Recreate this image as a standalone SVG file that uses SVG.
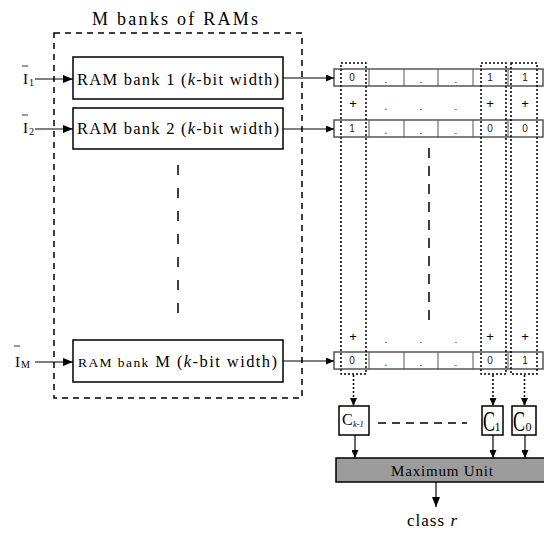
<svg xmlns="http://www.w3.org/2000/svg" width="544" height="533" viewBox="0 0 544 533">
<defs>
<marker id="ah" markerWidth="10" markerHeight="8" refX="10" refY="4" orient="auto" markerUnits="userSpaceOnUse">
<path d="M0,0 L10,4 L0,8 Z" fill="#000"/>
</marker>
<marker id="ahs" markerWidth="8" markerHeight="7" refX="8" refY="3.5" orient="auto" markerUnits="userSpaceOnUse">
<path d="M0,0 L8,3.5 L0,7 Z" fill="#000"/>
</marker>
<style>
.serif{font-family:"Liberation Serif","Times New Roman",serif;fill:#000}
.sans{font-family:"Liberation Sans",Arial,sans-serif;fill:#222;font-size:10px;text-anchor:middle}
.plus{font-family:"Liberation Sans",Arial,sans-serif;fill:#000;font-size:13px;text-anchor:middle}
.box{fill:#fff;stroke:#000;stroke-width:1.5}
.reg{fill:#fff;stroke:#555;stroke-width:1.5}
.div{stroke:#555;stroke-width:1}
.dash{fill:none;stroke:#000;stroke-width:1.5;stroke-dasharray:6 5}
.dot{fill:none;stroke:#000;stroke-width:1.5;stroke-dasharray:2 2}
.line{fill:none;stroke:#000;stroke-width:1.2}
</style>
</defs>
<rect width="544" height="533" fill="#fff"/>

<!-- title & enclosing dashed box -->
<g id="ram-group">
<text class="serif" x="92" y="25" font-size="18" textLength="166" lengthAdjust="spacing">M banks of RAMs</text>
<rect class="dash" x="54" y="33" width="248" height="365"/>
<line x1="178" y1="165" x2="178" y2="320" stroke="#000" stroke-width="1.5" stroke-dasharray="10 13"/>
</g>

<!-- inputs -->
<g id="input-1">
<text class="serif" x="23" y="84" font-size="15">I</text>
<text class="serif" x="29" y="86" font-size="10">1</text>
<line x1="22" y1="66" x2="28" y2="66" stroke="#000" stroke-width="0.8"/>
</g>
<g id="input-2">
<text class="serif" x="23" y="133" font-size="15">I</text>
<text class="serif" x="29" y="135" font-size="10">2</text>
<line x1="22" y1="115" x2="28" y2="115" stroke="#000" stroke-width="0.8"/>
</g>
<g id="input-M">
<text class="serif" x="15" y="367" font-size="15">I</text>
<text class="serif" x="21" y="368" font-size="10">M</text>
<line x1="14" y1="346" x2="20" y2="346" stroke="#000" stroke-width="0.8"/>
</g>

<!-- RAM banks -->
<g id="ram-bank-1">
<rect class="box" x="73" y="57" width="210" height="42"/>
<text class="serif" x="77" y="85" font-size="16.5" textLength="202" lengthAdjust="spacing">RAM bank 1 (<tspan font-style="italic">k</tspan>-bit width)</text>
</g>
<g id="ram-bank-2">
<rect class="box" x="73" y="108" width="210" height="41"/>
<text class="serif" x="77" y="134" font-size="16.5" textLength="202" lengthAdjust="spacing">RAM bank 2 (<tspan font-style="italic">k</tspan>-bit width)</text>
</g>
<g id="ram-bank-M">
<rect class="box" x="73" y="340" width="210" height="42"/>
<text class="serif" x="78" y="367" font-size="16.5" textLength="199" lengthAdjust="spacing"><tspan font-size="13.5">RAM bank</tspan> M (<tspan font-style="italic">k</tspan>-bit width)</text>
</g>

<!-- registers -->
<g id="register-1">
<rect class="reg" x="334" y="69" width="209" height="17"/>
<line class="div" x1="369" y1="69" x2="369" y2="86"/><line class="div" x1="404" y1="69" x2="404" y2="86"/><line class="div" x1="438" y1="69" x2="438" y2="86"/><line class="div" x1="473" y1="69" x2="473" y2="86"/><line class="div" x1="508" y1="69" x2="508" y2="86"/>
<text class="sans" x="352" y="81">0</text><text class="sans" x="386" y="83">.</text><text class="sans" x="421" y="83">.</text><text class="sans" x="456" y="83">.</text><text class="sans" x="490" y="81">1</text><text class="sans" x="525" y="81">1</text>
</g>
<g id="sum-row-1">
<text class="plus" x="353" y="108">+</text><text class="sans" x="386" y="110">.</text><text class="sans" x="421" y="110">.</text><text class="sans" x="456" y="110">.</text><text class="plus" x="490" y="108">+</text><text class="plus" x="525" y="108">+</text>
</g>
<g id="register-2">
<rect class="reg" x="334" y="120" width="209" height="17"/>
<line class="div" x1="369" y1="120" x2="369" y2="137"/><line class="div" x1="404" y1="120" x2="404" y2="137"/><line class="div" x1="438" y1="120" x2="438" y2="137"/><line class="div" x1="473" y1="120" x2="473" y2="137"/><line class="div" x1="508" y1="120" x2="508" y2="137"/>
<text class="sans" x="352" y="132">1</text><text class="sans" x="386" y="134">.</text><text class="sans" x="421" y="134">.</text><text class="sans" x="456" y="134">.</text><text class="sans" x="490" y="132">0</text><text class="sans" x="525" y="132">0</text>
</g>
<g id="register-gap">
<line x1="429" y1="148" x2="429" y2="320" stroke="#000" stroke-width="1.5" stroke-dasharray="10 8"/>
</g>
<g id="sum-row-M">
<text class="plus" x="353" y="341">+</text><text class="sans" x="386" y="343">.</text><text class="sans" x="421" y="343">.</text><text class="sans" x="456" y="343">.</text><text class="plus" x="490" y="341">+</text><text class="plus" x="525" y="341">+</text>
</g>
<g id="register-M">
<rect class="reg" x="334" y="352" width="209" height="17"/>
<line class="div" x1="369" y1="352" x2="369" y2="369"/><line class="div" x1="404" y1="352" x2="404" y2="369"/><line class="div" x1="438" y1="352" x2="438" y2="369"/><line class="div" x1="473" y1="352" x2="473" y2="369"/><line class="div" x1="508" y1="352" x2="508" y2="369"/>
<text class="sans" x="352" y="364">0</text><text class="sans" x="386" y="366">.</text><text class="sans" x="421" y="366">.</text><text class="sans" x="456" y="366">.</text><text class="sans" x="490" y="364">0</text><text class="sans" x="525" y="364">1</text>
</g>

<!-- dotted column groupings -->
<g id="column-k-1"><rect class="dot" x="341" y="63" width="25" height="311"/></g>
<g id="column-1"><rect class="dot" x="481" y="63" width="25" height="311"/></g>
<g id="column-0"><rect class="dot" x="511" y="63" width="26" height="311"/></g>

<!-- counters -->
<g id="counter-k-1">
<rect class="box" x="339" y="406" width="30" height="29"/>
<text class="serif" x="342" y="425" font-size="16">C</text>
<text class="serif" x="353" y="427" font-size="8.5" font-style="italic">k-1</text>
</g>
<g id="counter-1">
<rect class="box" x="482" y="406" width="21" height="29"/>
<text class="serif" transform="translate(483,430.5) scale(1,1.6)" font-size="18">C</text>
<text class="serif" x="494.5" y="430.5" font-size="12">1</text>
</g>
<g id="counter-0">
<rect class="box" x="512" y="406" width="24" height="29"/>
<text class="serif" transform="translate(513,430.5) scale(1,1.6)" font-size="18">C</text>
<text class="serif" x="525.5" y="430.5" font-size="12">0</text>
</g>

<!-- maximum unit -->
<g id="maximum-unit">
<rect x="336" y="458" width="212" height="24" fill="#9c9c9c" stroke="#000" stroke-width="1.5"/>
<text class="serif" x="391" y="476" font-size="15" textLength="102" lengthAdjust="spacing">Maximum Unit</text>
</g>
<g id="output">
<text class="serif" x="407" y="526" font-size="17" textLength="50" lengthAdjust="spacing">class <tspan font-style="italic">r</tspan></text>
</g>

<!-- connectors -->
<g id="connectors">
<line class="line" x1="35" y1="79" x2="73" y2="79" marker-end="url(#ah)"/>
<line class="line" x1="35" y1="129" x2="73" y2="129" marker-end="url(#ah)"/>
<line class="line" x1="35" y1="362" x2="73" y2="362" marker-end="url(#ah)"/>
<line class="line" x1="283" y1="78" x2="334" y2="78" marker-end="url(#ahs)"/>
<line class="line" x1="283" y1="129" x2="334" y2="129" marker-end="url(#ahs)"/>
<line class="line" x1="283" y1="361" x2="334" y2="361" marker-end="url(#ahs)"/>
<line x1="353.5" y1="375" x2="353.5" y2="406" stroke="#000" stroke-width="1.5" stroke-dasharray="2 2" marker-end="url(#ahs)"/>
<line x1="493" y1="375" x2="493" y2="406" stroke="#000" stroke-width="1.5" stroke-dasharray="2 2" marker-end="url(#ahs)"/>
<line x1="524.5" y1="375" x2="524.5" y2="406" stroke="#000" stroke-width="1.5" stroke-dasharray="2 2" marker-end="url(#ahs)"/>
<line x1="378" y1="423" x2="467" y2="423" stroke="#000" stroke-width="1.5" stroke-dasharray="8 6"/>
<line class="line" x1="355" y1="435" x2="355" y2="458" marker-end="url(#ahs)"/>
<line class="line" x1="493" y1="435" x2="493" y2="458" marker-end="url(#ahs)"/>
<line class="line" x1="525" y1="435" x2="525" y2="458" marker-end="url(#ahs)"/>
<line class="line" x1="436" y1="482" x2="436" y2="507" marker-end="url(#ah)"/>
</g>
</svg>
